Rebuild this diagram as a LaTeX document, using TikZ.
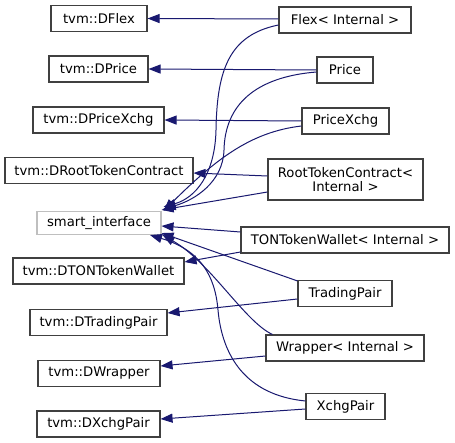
\documentclass[tikz,border=0pt]{standalone}
\usepackage{fontspec}
\setmainfont{DejaVu Sans}
\usetikzlibrary{arrows.meta}
\definecolor{Edge}{RGB}{25,25,112}
\definecolor{Frame}{RGB}{64,64,64}
\definecolor{Faint}{RGB}{191,191,191}

\begin{document}
\begin{tikzpicture}[x=1pt,y=-1pt,
  cls/.style={draw=Frame,fill=white,line width=1.1pt,inner sep=0pt,minimum height=26,
    font=\fontsize{13.2}{14.5}\selectfont},
  iface/.style={cls,draw=Faint,minimum height=23},
  inh/.style={draw=Edge,line width=1pt,-{Triangle[length=12pt,width=9pt]}}]
  \fill[white] (0,0) rectangle (455,443);
  \useasboundingbox (0,0) rectangle (455,443);
  % base classes
  \node[cls,minimum width=96] (dflex) at (99,18.5) {tvm::DFlex};
  \node[cls,minimum width=99] (dprice) at (98.5,69) {tvm::DPrice};
  \node[cls,minimum width=131] (dpxchg) at (98.5,120) {tvm::DPriceXchg};
  \node[cls,minimum width=188] (droot) at (99,170.5) {tvm::DRootTokenContract};
  \node[iface,minimum width=124] (smart) at (99,223) {smart\_interface};
  \node[cls,minimum width=171] (dton) at (98.5,271) {tvm::DTONTokenWallet};
  \node[cls,minimum width=137] (dtrade) at (98.5,322.5) {tvm::DTradingPair};
  \node[cls,minimum width=122] (dwrap) at (99,373.5) {tvm::DWrapper};
  \node[cls,minimum width=123] (dxchg) at (98.5,424) {tvm::DXchgPair};
  % derived classes
  \node[cls,minimum width=132] (flex) at (345,20) {Flex< Internal >};
  \node[cls,minimum width=56] (price) at (345,70) {Price};
  \node[cls,minimum width=87] (pxchg) at (345.5,121) {PriceXchg};
  \node[cls,minimum width=155,minimum height=41,align=center] (root) at (345.5,179.5) {RootTokenContract<\\Internal >};
  \node[cls,minimum width=208] (ton) at (345,240) {TONTokenWallet< Internal >};
  \node[cls,minimum width=94] (trade) at (345,293.5) {TradingPair};
  \node[cls,minimum width=158] (wrap) at (345,348) {Wrapper< Internal >};
  \node[cls,minimum width=79] (xchg) at (345.5,406.5) {XchgPair};
  % inheritance
  \draw[inh] ([yshift=1pt]flex.west) -- (dflex.east);
  \draw[inh] ([yshift=-5pt]flex.west) .. controls (229,35) and (217,70) .. (216,130)
    .. controls (215,175) and (195,198) .. ([xshift=2pt,yshift=4pt]smart.north east);
  \draw[inh] (price.west) -- (dprice.east);
  \draw[inh] ([yshift=-2pt]price.west) .. controls (255,77) and (225,105) .. (224,150)
    .. controls (223,182) and (195,200) .. ([xshift=2pt,yshift=2pt]smart.north east);
  \draw[inh] (pxchg.west) -- (dpxchg.east);
  \draw[inh] ([yshift=-5pt]pxchg.west) .. controls (250,132) and (215,160) .. ([xshift=2pt]smart.north east);
  \draw[inh] ([yshift=3.5pt]root.west) -- ([yshift=-2.5pt]droot.east);
  \draw[inh] ([yshift=-12.5pt]root.west) -- ([yshift=1pt]smart.north east);
  \draw[inh] ([yshift=8pt]ton.west) -- ([yshift=-3pt]smart.east);
  \draw[inh] ([yshift=-12pt]ton.west) -- ([yshift=9pt]dton.east);
  \draw[inh] ([yshift=-1pt]trade.north west) -- ([yshift=2pt]smart.south east);
  \draw[inh] ([yshift=-5.5pt]trade.west) -- ([yshift=9.5pt]dtrade.east);
  \draw[inh] ([xshift=7pt]wrap.north west) .. controls (245,322) and (210,262) .. ([xshift=1pt]smart.south east);
  \draw[inh] ([yshift=-8pt]wrap.west) -- ([yshift=7.5pt]dwrap.east);
  \draw[inh] ([yshift=5.5pt]xchg.west) .. controls (245,395) and (222,355) .. (218,310)
    .. controls (215,275) and (200,250) .. ([xshift=51pt]smart.south);
  \draw[inh] ([yshift=-2.5pt]xchg.west) -- ([yshift=5pt]dxchg.east);
\end{tikzpicture}
\end{document}
